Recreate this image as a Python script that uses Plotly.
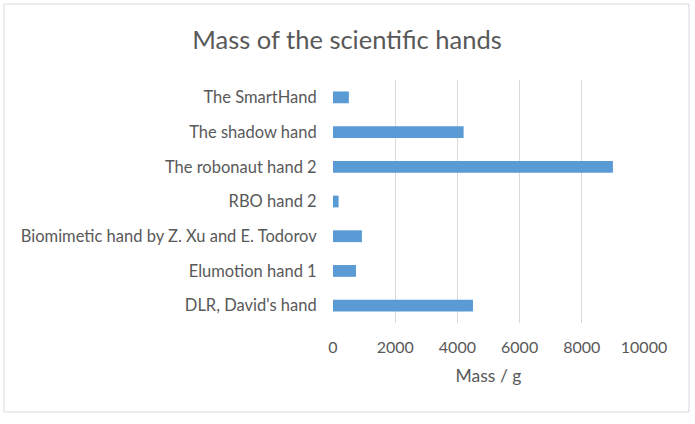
import plotly.graph_objects as go

categories = ["DLR, David's hand", "Elumotion hand 1", "Biomimetic hand by Z. Xu and E. Todorov",
              "RBO hand 2", "The robonaut hand 2", "The shadow hand", "The SmartHand"]
mass_g = [4500, 740, 930, 180, 9000, 4200, 510]
x_ticks = [0, 2000, 4000, 6000, 8000, 10000]

W, H = 695, 424
L, R, T, B = 333, 51, 80, 101
pw = W - L - R
ph = H - T - B

fig = go.Figure(go.Bar(
    x=mass_g, y=categories, orientation="h",
    marker=dict(color="#5b9bd5", line=dict(width=0)),
    width=0.34,
))

font = "Lato, Open Sans, sans-serif"
fig.update_layout(
    width=W, height=H,
    margin=dict(l=L, r=R, t=T, b=B),
    paper_bgcolor="white", plot_bgcolor="white",
    font=dict(family=font, color="#595959", size=16),
    title=dict(text="Mass of the scientific hands", x=347 / W, xref="container", xanchor="center",
               y=1 - 40 / H, yanchor="middle",
               font=dict(size=25.5, color="#595959", family=font)),
    showlegend=False,
)
fig.update_xaxes(range=[0, 10000], tickvals=x_ticks, ticktext=[str(v) for v in x_ticks],
                 showgrid=True, gridcolor="#d9d9d9", gridwidth=1,
                 zeroline=False, showline=False,
                 ticks="outside", ticklen=10, tickcolor="white",
                 tickfont=dict(size=16, color="#595959"),
                 title=dict(text="Mass / g", font=dict(size=17.5, color="#595959"), standoff=14))
fig.update_yaxes(showgrid=False, zeroline=False, showline=False,
                 ticks="outside", ticklen=12, tickcolor="white",
                 tickfont=dict(size=16.5, color="#595959"))

# outer chart border
fig.add_shape(type="rect", xref="paper", yref="paper",
              x0=(4 - L) / pw, x1=(689 - L) / pw,
              y0=(H - B - 412) / ph, y1=(H - B - 4) / ph,
              line=dict(color="#d9d9d9", width=1), fillcolor="rgba(0,0,0,0)", layer="below")

fig.write_html("out.html")
